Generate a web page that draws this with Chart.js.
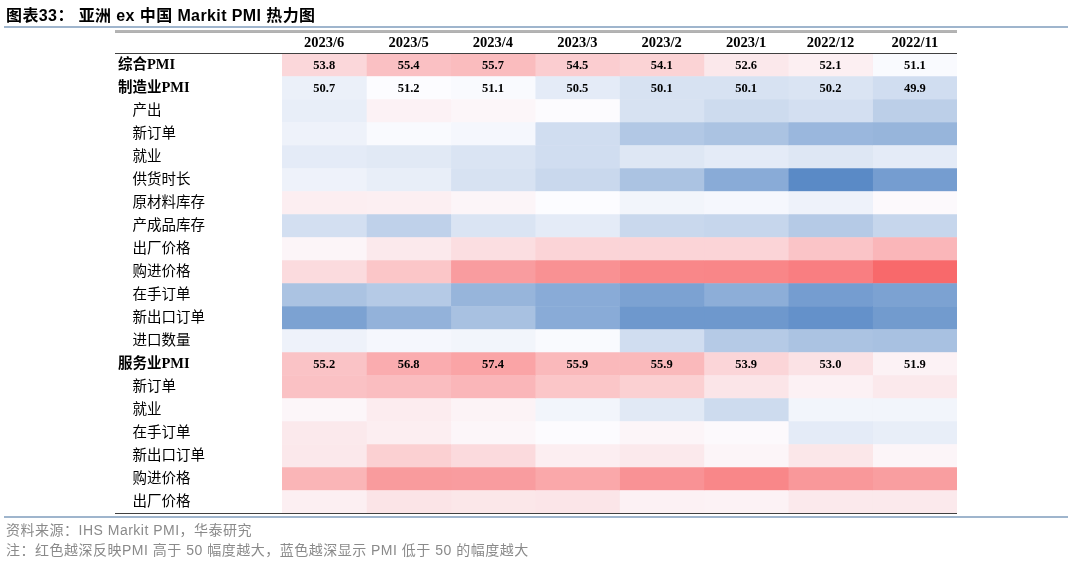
<!DOCTYPE html>
<html>
<head>
<meta charset="utf-8">
<script src="https://cdn.jsdelivr.net/npm/chart.js@4.4.1/dist/chart.umd.min.js"></script>
<style>
  body { margin: 0; background: #fff; }
  #wrap { position: absolute; left: 0; top: 0; width: 1080px; height: 561px; }
  .title { position: absolute; left: 6px; top: 2px; font: bold 16px "Liberation Sans", "Noto Sans CJK SC"; color: #000; white-space: nowrap; letter-spacing: 0.4px; }
  .note { position: absolute; left: 6px; font: 14px "Liberation Sans", "Noto Sans CJK SC"; color: #8a8a8a; white-space: nowrap; letter-spacing: 0.5px; }
</style>
</head>
<body>
<div id="wrap"><canvas id="heat"></canvas></div>
<div class="title">图表33：&nbsp;亚洲 ex 中国 Markit PMI 热力图</div>
<div class="note" style="top:519px">资料来源：IHS Markit PMI，华泰研究</div>
<div class="note" style="top:539px">注：红色越深反映PMI 高于 50 幅度越大，蓝色越深显示 PMI 低于 50 的幅度越大</div>
<script>
// columns
const months = ["2023/6", "2023/5", "2023/4", "2023/3", "2023/2", "2023/1", "2022/12", "2022/11"];

// rows
const rowNames = ["综合PMI", "制造业PMI", "产出", "新订单", "就业", "供货时长", "原材料库存", "产成品库存",
  "出厂价格", "购进价格", "在手订单", "新出口订单", "进口数量",
  "服务业PMI", "新订单", "就业", "在手订单", "新出口订单", "购进价格", "出厂价格"];
const headlineRows = [0, 1, 13]; // bold rows with printed values

// values per row (2023/6 ... 2022/11), sub-indices
const composite        = [53.8, 55.4, 55.7, 54.5, 54.1, 52.6, 52.1, 51.1];
const manufacturing    = [50.7, 51.2, 51.1, 50.5, 50.1, 50.1, 50.2, 49.9];
const mfgOutput        = [50.6, 51.9, 51.6, 51.3, 50.1, 49.8, 50.0, 49.3];
const mfgNewOrders     = [50.8, 51.1, 51.0, 49.9, 49.0, 48.8, 48.3, 48.2];
const mfgEmployment    = [50.5, 50.4, 50.2, 49.9, 50.3, 50.5, 50.3, 50.5];
const mfgDelivery      = [50.8, 50.6, 50.1, 49.7, 48.8, 47.8, 46.4, 47.2];
const mfgRawStock      = [52.2, 52.1, 51.7, 51.2, 50.9, 51.0, 50.8, 51.4];
const mfgFinishedStock = [50.0, 49.4, 50.2, 50.5, 49.7, 49.6, 49.1, 49.6];
const mfgOutputPrices  = [51.7, 52.5, 53.3, 54.0, 54.0, 54.0, 55.1, 56.1];
const mfgInputPrices   = [53.5, 55.0, 57.9, 58.7, 59.4, 59.5, 60.0, 61.5];
const mfgBacklog       = [48.8, 49.1, 48.2, 47.8, 47.4, 47.9, 47.2, 47.4];
const mfgExportOrders  = [47.4, 48.1, 48.7, 47.8, 47.0, 47.0, 46.7, 47.1];
const mfgImports       = [50.8, 51.0, 50.9, 51.1, 49.9, 49.1, 48.8, 48.7];
const services         = [55.2, 56.8, 57.4, 55.9, 55.9, 53.9, 53.0, 51.9];
const svcNewOrders     = [55.3, 55.6, 56.1, 55.0, 54.3, 52.8, 52.0, 52.5];
const svcEmployment    = [51.6, 52.3, 51.8, 50.9, 50.4, 49.8, 50.9, 50.9];
const svcBacklog       = [52.5, 52.2, 51.6, 51.3, 51.7, 51.4, 50.5, 50.6];
const svcExportOrders  = [52.6, 54.3, 53.6, 52.2, 52.5, 51.7, 52.7, 51.7];
const svcInputPrices   = [56.2, 58.0, 57.9, 57.1, 58.6, 59.4, 58.2, 57.8];
const svcOutputPrices  = [52.1, 52.9, 52.7, 52.8, 52.0, 51.9, 52.5, 52.5];

const values = [composite, manufacturing, mfgOutput, mfgNewOrders, mfgEmployment, mfgDelivery,
  mfgRawStock, mfgFinishedStock, mfgOutputPrices, mfgInputPrices, mfgBacklog, mfgExportOrders,
  mfgImports, services, svcNewOrders, svcEmployment, svcBacklog, svcExportOrders,
  svcInputPrices, svcOutputPrices];

// 3-colour scale, excel style
const scaleMin = 46.4, scaleMid = 51.2, scaleMax = 61.5;
function heat(v) {
  const white = [252, 252, 255];
  let end, t;
  if (v < scaleMid) { end = [90, 138, 198]; t = (scaleMid - v) / (scaleMid - scaleMin); }
  else { end = [248, 105, 107]; t = (v - scaleMid) / (scaleMax - scaleMid); }
  t = Math.max(0, Math.min(1, t));
  const c = white.map((w, i) => Math.round(w + (end[i] - w) * t));
  return "rgb(" + c.join(",") + ")";
}

const datasets = months.map((m, j) => ({
  label: m,
  data: rowNames.map(() => [j, j + 1]),
  backgroundColor: values.map(row => heat(row[j])),
  borderWidth: 0,
  grouped: false,
  barPercentage: 1,
  categoryPercentage: 1
}));

// print the headline numbers in their cells
const cellText = {
  id: "cellText",
  afterDatasetsDraw(chart) {
    const ctx = chart.ctx;
    ctx.save();
    ctx.font = "bold 12.5px 'Liberation Serif'";
    ctx.fillStyle = "#000";
    ctx.textAlign = "center";
    ctx.textBaseline = "middle";
    chart.data.datasets.forEach((ds, j) => {
      const meta = chart.getDatasetMeta(j);
      headlineRows.forEach(i => {
        const el = meta.data[i];
        ctx.fillText(values[i][j].toFixed(1), (el.x + el.base) / 2, el.y + 1);
      });
    });
    ctx.restore();
  }
};

// table rules + blue page rules
const rules = {
  id: "rules",
  afterDraw(chart) {
    const ctx = chart.ctx, a = chart.chartArea;
    const line = (x1, x2, y, w, col) => {
      ctx.beginPath(); ctx.moveTo(x1, y); ctx.lineTo(x2, y);
      ctx.lineWidth = w; ctx.strokeStyle = col; ctx.stroke();
    };
    ctx.save();
    line(4, 1068, 27, 1.5, "#7f9cbd");
    line(4, 1068, a.bottom + 3.5, 1.5, "#7f9cbd");
    line(115, a.right, 31, 1, "#6b6b6b");
    line(115, a.right, 32.5, 1, "#b0b0b0");
    line(115, a.right, a.top, 1, "#404040");
    line(115, a.right, a.bottom, 1.2, "#404040");
    ctx.restore();
  }
};

new Chart(document.getElementById("heat"), {
  type: "bar",
  data: { labels: rowNames, datasets: datasets },
  options: {
    indexAxis: "y",
    responsive: true,
    maintainAspectRatio: false,
    animation: false,
    layout: { padding: { left: 118, right: 123, top: 33, bottom: 47.5 } },
    plugins: { legend: { display: false }, tooltip: { enabled: false } },
    scales: {
      x: { type: "linear", min: 0, max: months.length, display: false },
      x2: {
        type: "category", axis: "x", position: "top", labels: months, offset: true,
        grid: { display: false, drawTicks: false }, border: { display: false },
        ticks: { color: "#000", padding: 2, font: { family: "'Liberation Serif'", size: 14.5, weight: "bold" } },
        afterFit(s) { s.height = 20.5; }
      },
      y: {
        grid: { display: false, drawTicks: false }, border: { display: false },
        ticks: {
          crossAlign: "far", color: "#000", padding: 0, autoSkip: false,
          font: ctx => ({ family: "'Liberation Serif', 'Noto Sans CJK SC'", size: 14.5,
            weight: headlineRows.includes(ctx.index) ? "bold" : "normal" }),
          callback: (v, i) => headlineRows.includes(i) ? rowNames[i] : "\u3000" + rowNames[i]
        },
        afterFit(s) { s.width = 164; }
      }
    }
  },
  plugins: [cellText, rules]
});
</script>
</body>
</html>
